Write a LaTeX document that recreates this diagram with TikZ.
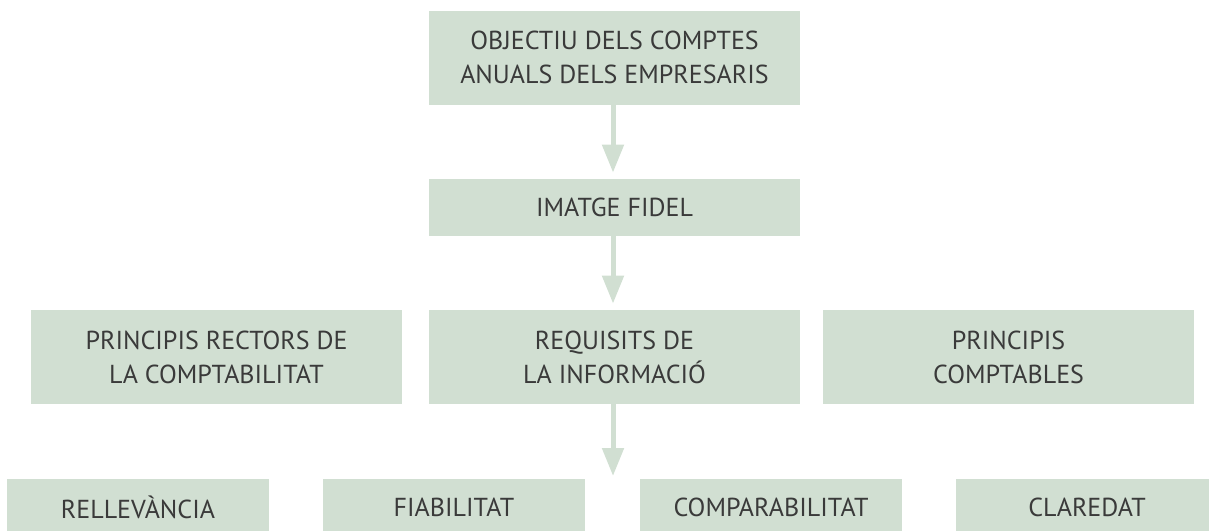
\documentclass[tikz,border=0pt]{standalone}
\usepackage{fontspec}
\setmainfont{PT Sans}
\usepackage{tikz}
\usetikzlibrary{arrows.meta, positioning}

\definecolor{sage}{RGB}{209,223,210}
\definecolor{ink}{RGB}{58,58,58}

\begin{document}
\begin{tikzpicture}[
    x=0.5pt, y=-0.5pt,
    >={Triangle[length=14pt, width=10.5pt]},
    font=\fontsize{13}{17}\selectfont,
    % Blocks
    block/.style={fill=sage, text=ink, align=center, inner sep=0pt},
    wide/.style ={block, minimum width=185.5pt, minimum height=47pt},
    thin/.style ={block, minimum width=185.5pt, minimum height=28.5pt},
    leaf/.style ={block, minimum width=131pt, minimum height=28.5pt},
    % Arrows
    flow/.style ={draw=sage, line width=2.5pt, ->, shorten >=3pt}
]

% Canvas
\useasboundingbox (0,0) rectangle (1209,530);

% --------------------------- Top -------------------------------------
\node[wide] (obj)    at (614.5,57.5)  {OBJECTIU DELS COMPTES\\ANUALS DELS EMPRESARIS};
\node[thin] (imatge) at (614.5,207.5) {IMATGE FIDEL};

% --------------------------- Middle row ------------------------------
\node[wide] (rectors)    at (216.5,357)  {PRINCIPIS RECTORS DE\\LA COMPTABILITAT};
\node[wide] (requisits)  at (614.5,357)  {REQUISITS DE\\LA INFORMACIÓ};
\node[wide] (comptables) at (1008.5,357) {PRINCIPIS\\COMPTABLES};

% --------------------------- Bottom row ------------------------------
\node[leaf] (rellevancia)    at (138,507.5)  {RELLEVÀNCIA};
\node[leaf] (fiabilitat)     at (454,507.5)  {FIABILITAT};
\node[leaf] (comparabilitat) at (771,507.5)  {COMPARABILITAT};
\node[leaf] (claredat)       at (1087,507.5) {CLAREDAT};

% ======================== Arrows =====================================
\coordinate (below) at (613,479);
\draw[flow] (obj.south -| below) -- (imatge.north -| below);
\draw[flow] (imatge.south -| below) -- (requisits.north -| below);
\draw[flow, shorten >=1.5pt] (requisits.south -| below) -- (below);

\end{tikzpicture}
\end{document}
